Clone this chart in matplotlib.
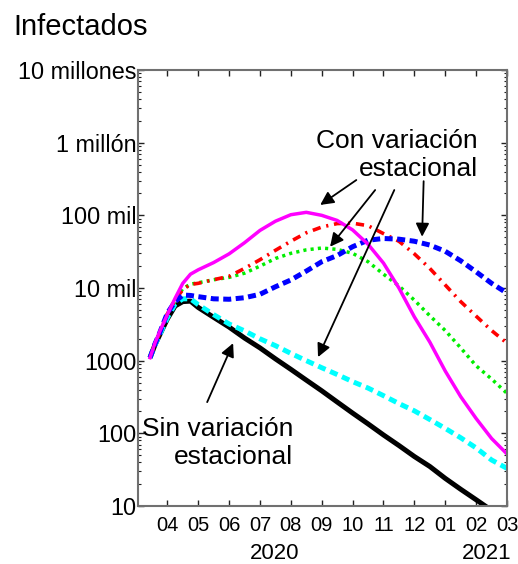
import matplotlib
matplotlib.use("Agg")
import matplotlib.pyplot as plt
from matplotlib.ticker import FixedLocator, LogLocator, NullFormatter

plt.rcParams['font.family'] = ['Liberation Sans', 'DejaVu Sans']

# months counted from April 1, 2020 (0 = "04")
months = [-0.56, -0.4, -0.25, 0, 0.25, 0.5, 0.75, 1, 1.5, 2, 2.5, 3, 3.5, 4,
          4.5, 5, 5.5, 6, 6.5, 7, 7.5, 8, 8.5, 9, 9.5, 10, 10.5, 11]

sin_var = [1100, 1650, 2250, 3750, 5650, 6500, 6600, 5400, 3950, 2900, 2050, 1500,
           1060, 760, 540, 385, 270, 190, 135, 95, 68, 48, 35, 24, 17, 12.2, 8.7, 6.3]
cyan_line = [1100, 1650, 2250, 3900, 6000, 7100, 7100, 5900, 4300, 3200, 2570, 2000,
             1610, 1260, 1000, 800, 645, 515, 420, 330, 257, 204, 155, 117, 87, 63, 43, 33]
blue_line = [1100, 1700, 2400, 4500, 6500, 8000, 7900, 7600, 7100, 7000, 7350, 8200,
             10400, 12900, 17100, 23000, 28000, 37000, 45500, 48000, 47000, 44000,
             39000, 32000, 23700, 16700, 11600, 8500]
red_line = [1100, 1700, 2400, 4400, 6800, 9500, 11200, 11600, 13000, 14500, 18600, 24500,
            33000, 44000, 57500, 69000, 77000, 78000, 72000, 56000, 44000, 29500,
            18600, 11000, 6500, 4100, 2600, 1740]
green_line = [1100, 1700, 2400, 4400, 6800, 9800, 11300, 11800, 13000, 14000, 16000, 20000,
              25500, 30000, 33500, 35500, 34000, 30000, 23000, 15500, 10700, 6800,
              4150, 2600, 1500, 850, 560, 355]
magenta_line = [1100, 1750, 2500, 4300, 7200, 11600, 15500, 17800, 22400, 29500, 42000,
                62000, 83000, 102000, 110000, 100000, 85000, 63000, 40000, 22000, 10000,
                4000, 1800, 720, 320, 160, 85, 52]

month_labels = ['04', '05', '06', '07', '08', '09', '10', '11', '12', '01', '02', '03']
ytick_vals = [10, 100, 1000, 1e4, 1e5, 1e6, 1e7]
ytick_labels = ['10', '100', '1000', '10 mil', '100 mil', '1 millón', '10 millones']

fig = plt.figure(figsize=(5.18, 5.64), dpi=100)
ax = fig.add_axes([0.2664, 0.1028, 0.7124, 0.7731])

ax.plot(months, sin_var, color='black', lw=3.6, solid_capstyle='butt')
ax.plot(months, cyan_line, color='#00ffff', lw=3.6, dashes=(1.6, 1.0))
ax.plot(months, green_line, color='#00ee00', lw=2.5, dashes=(0.9, 1.2))
ax.plot(months, red_line, color='#ff0000', lw=2.6, dashes=(2.3, 1.6, 0.6, 1.6))
ax.plot(months, blue_line, color='#0000ff', lw=3.6, dashes=(1.6, 0.9))
ax.plot(months, magenta_line, color='#ff00ff', lw=2.5)

ax.set_yscale('log')
ax.set_ylim(10, 1e7)
ax.set_xlim(-0.95, 11)

ax.xaxis.set_major_locator(FixedLocator(range(12)))
ax.set_xticklabels(month_labels, fontsize=14.5)
ax.yaxis.set_major_locator(FixedLocator(ytick_vals))
ax.set_yticklabels(ytick_labels, fontsize=16.8)
ax.yaxis.set_minor_locator(LogLocator(base=10, subs=range(2, 10)))
ax.yaxis.set_minor_formatter(NullFormatter())

ax.tick_params(which='both', direction='in', top=True, right=True, color='#222222')
ax.tick_params(which='major', length=4, width=1)
ax.tick_params(which='minor', length=2, width=0.8)
ax.tick_params(axis='x', pad=7)
ax.tick_params(axis='y', pad=1)
for s in ax.spines.values():
    s.set_color('#707070')
    s.set_linewidth(1.5)

xt = ax.get_xaxis_transform()
ax.text(3.47, -0.108, '2020', transform=xt, ha='center', va='center', fontsize=16)
ax.text(10.35, -0.108, '2021', transform=xt, ha='center', va='center', fontsize=16)

fig.text(0.025, 1 - 35 / 564, 'Infectados', fontsize=21, ha='left', va='baseline')

ax.text(478 / 518, 1 - 176 / 564, 'Con variación\nestacional', transform=fig.transFigure,
        ha='right', va='baseline', fontsize=19, linespacing=1.2, multialignment='right')
ax.text(293 / 518, 1 - 464 / 564, 'Sin variación\nestacional', transform=fig.transFigure,
        ha='right', va='baseline', fontsize=19, linespacing=1.2, multialignment='right')

arrow = dict(arrowstyle='-|>', color='black', lw=1.3, mutation_scale=20, shrinkA=0, shrinkB=0)
ax.annotate('', xy=(4.95, 139000), xytext=(6.12, 306000), arrowprops=arrow)
ax.annotate('', xy=(5.27, 37000), xytext=(6.73, 223000), arrowprops=arrow)
ax.annotate('', xy=(4.88, 1120), xytext=(7.35, 223000), arrowprops=arrow)
ax.annotate('', xy=(8.25, 50800), xytext=(8.3, 295000), arrowprops=arrow)
ax.annotate('', xy=(2.13, 1740), xytext=(1.29, 269), arrowprops=arrow)

fig.savefig('out.png', dpi=100)
